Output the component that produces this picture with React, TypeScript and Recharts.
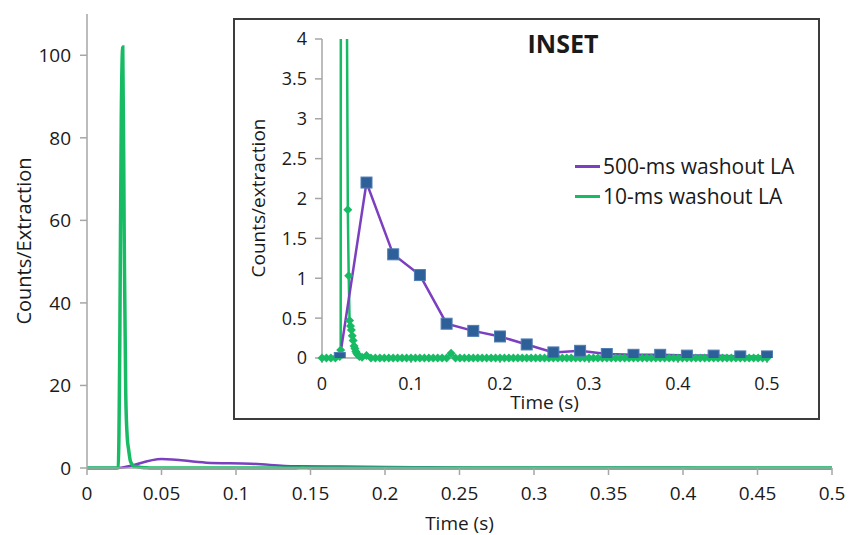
import { Line, LineChart, XAxis, YAxis } from "recharts";

// 500-ms washout LA (purple, square markers)
const slowTime = [0, 0.02, 0.05, 0.08, 0.11, 0.14, 0.17, 0.2, 0.23, 0.26, 0.29, 0.32, 0.35, 0.38, 0.41, 0.44, 0.47, 0.5];
const slowCounts = [0, 0, 2.2, 1.3, 1.04, 0.43, 0.34, 0.27, 0.17, 0.07, 0.09, 0.05, 0.04, 0.04, 0.03, 0.03, 0.02, 0.02];

// 10-ms washout LA (green, diamond markers)
const fastTime = [
  0, 0.005, 0.01, 0.015, 0.02, 0.021, 0.022, 0.023, 0.024, 0.025,
  0.026, 0.027, 0.028, 0.029, 0.03, 0.031, 0.032, 0.033, 0.034, 0.035,
  0.036, 0.037, 0.038, 0.039, 0.04, 0.042, 0.045, 0.05,
  0.055, 0.06, 0.065, 0.07, 0.075, 0.08, 0.085, 0.09, 0.095, 0.1,
  0.105, 0.11, 0.115, 0.12, 0.125, 0.13, 0.135, 0.14, 0.145, 0.15,
  0.155, 0.16, 0.165, 0.17, 0.175, 0.18, 0.185, 0.19, 0.195, 0.2,
  0.205, 0.21, 0.215, 0.22, 0.225, 0.23, 0.235, 0.24, 0.245, 0.25,
  0.255, 0.26, 0.265, 0.27, 0.275, 0.28, 0.285, 0.29, 0.295, 0.3,
  0.305, 0.31, 0.315, 0.32, 0.325, 0.33, 0.335, 0.34, 0.345, 0.35,
  0.355, 0.36, 0.365, 0.37, 0.375, 0.38, 0.385, 0.39, 0.395, 0.4,
  0.405, 0.41, 0.415, 0.42, 0.425, 0.43, 0.435, 0.44, 0.445, 0.45,
  0.455, 0.46, 0.465, 0.47, 0.475, 0.48, 0.485, 0.49, 0.495, 0.5
];
const fastCounts = [
  0, 0, 0, 0, 0.02, 0.1, 30, 85, 102, 55,
  18, 7.5, 4.3, 1.86, 1.03, 0.47, 0.4, 0.35, 0.28, 0.22,
  0.15, 0.12, 0.08, 0.06, 0.04, 0.02, 0.01, 0.03,
  0, 0, 0, 0, 0, 0, 0, 0, 0, 0,
  0, 0, 0, 0, 0, 0, 0, 0, 0.06, 0,
  0, 0, 0, 0, 0, 0, 0, 0, 0, 0,
  0, 0, 0, 0, 0, 0, 0, 0, 0, 0,
  0, 0, 0, 0, 0, 0, 0, 0, 0, 0,
  0, 0, 0, 0, 0, 0, 0, 0, 0, 0,
  0, 0, 0, 0, 0, 0, 0, 0, 0, 0,
  0, 0, 0, 0, 0, 0, 0, 0, 0, 0,
  0, 0, 0, 0, 0, 0, 0, 0, 0, 0
];

const mainTimeTicks = [0, 0.05, 0.1, 0.15, 0.2, 0.25, 0.3, 0.35, 0.4, 0.45, 0.5];
const mainCountTicks = [0, 20, 40, 60, 80, 100];
const insetTimeTicks = [0, 0.1, 0.2, 0.3, 0.4, 0.5];
const insetCountTicks = [0, 0.5, 1, 1.5, 2, 2.5, 3, 3.5, 4];

const slow = slowTime.map((t, i) => ({ t, v: slowCounts[i] }));
const fast = fastTime.map((t, i) => ({ t, v: fastCounts[i] }));
// markers that fall inside the inset's 0-4 range
const fastMarkers = fast.filter((d) => d.v <= 4);

const PURPLE = "#7b3fbf";
const GREEN = "#17bb64";
const SQUARE = "#2d5f99";
const AXIS = "#a6a6a6";
const TEXT = "#1a1a1a";
const FONT = "'Open Sans', sans-serif";

function Square(props: any) {
  const { cx, cy, index } = props;
  if (index === 0 || cx == null || cy == null) return <g key={`s-${index}`} />;
  return (
    <rect
      key={`s-${index}`}
      x={cx - 5.5}
      y={cy - 5.5}
      width={11}
      height={11}
      fill={SQUARE}
      stroke="#4f7db3"
      strokeWidth={1}
    />
  );
}

function Diamond(props: any) {
  const { cx, cy, index } = props;
  if (cx == null || cy == null) return <g key={`d-${index}`} />;
  const r = 4.5;
  return (
    <polygon
      key={`d-${index}`}
      points={`${cx},${cy - r} ${cx + r},${cy} ${cx},${cy + r} ${cx - r},${cy}`}
      fill={GREEN}
    />
  );
}

export default function App() {
  return (
    <div style={{ position: "absolute", left: 0, top: 0, width: 861, height: 535, overflow: "hidden", background: "#fff", fontFamily: FONT, color: TEXT }}>
      <LineChart width={861} height={535} margin={{ top: 14, right: 29, bottom: 27, left: 27 }}>
        <XAxis
          type="number"
          dataKey="t"
          domain={[0, 0.5]}
          ticks={mainTimeTicks}
          interval={0}
          height={40}
          stroke={AXIS}
          strokeWidth={1.5}
          tickSize={7}
          tickMargin={12}
          tick={{ fill: TEXT, fontSize: 19 }}
        />
        <YAxis
          type="number"
          domain={[0, 110]}
          ticks={mainCountTicks}
          interval={0}
          width={60}
          stroke={AXIS}
          strokeWidth={1.5}
          tickSize={7}
          tickMargin={9}
          tick={{ fill: TEXT, fontSize: 19 }}
        />
        <Line data={slow} dataKey="v" type="monotone" stroke={PURPLE} strokeWidth={2.5} dot={false} isAnimationActive={false} />
        <Line data={fast} dataKey="v" type="monotone" stroke={GREEN} strokeWidth={3.5} dot={false} isAnimationActive={false} />
      </LineChart>

      <div style={{ position: "absolute", left: 87, top: 513, width: 745, textAlign: "center", fontSize: 19, lineHeight: "20px" }}>
        Time (s)
      </div>
      <div style={{ position: "absolute", left: 24 - 110, top: 241 - 10, width: 220, textAlign: "center", fontSize: 20, lineHeight: "20px", transform: "rotate(-90deg)" }}>
        Counts/Extraction
      </div>

      <div style={{ position: "absolute", left: 233, top: 18, width: 587, height: 402, boxSizing: "border-box", border: "2px solid #3c3c3c", background: "#fff" }} />
      <div style={{ position: "absolute", left: 233, top: 18 }}>
        <LineChart width={587} height={402} margin={{ top: 21, right: 53, bottom: 32, left: 29 }}>
          <XAxis
            type="number"
            dataKey="t"
            domain={[0, 0.5]}
            ticks={insetTimeTicks}
            interval={0}
            height={30}
            stroke={AXIS}
            strokeWidth={1.5}
            tickSize={5}
            tickMargin={14}
            tick={{ fill: TEXT, fontSize: 18 }}
          />
          <YAxis
            type="number"
            domain={[0, 4]}
            allowDataOverflow
            ticks={insetCountTicks}
            interval={0}
            width={60}
            stroke={AXIS}
            strokeWidth={1.5}
            tickSize={7}
            tickMargin={8}
            tick={{ fill: TEXT, fontSize: 18 }}
          />
          <YAxis yAxisId="markers" type="number" domain={[0, 4]} hide />
          <Line data={fast} dataKey="v" type="linear" stroke={GREEN} strokeWidth={2.5} dot={false} isAnimationActive={false} />
          <Line
            data={fastMarkers}
            yAxisId="markers"
            dataKey="v"
            type="linear"
            stroke="none"
            dot={Diamond}
            activeDot={false}
            isAnimationActive={false}
          />
          <Line data={slow} dataKey="v" type="linear" stroke={PURPLE} strokeWidth={2.5} dot={Square} isAnimationActive={false} />
        </LineChart>
      </div>

      <div style={{ position: "absolute", left: 322, top: 393, width: 445, textAlign: "center", fontSize: 19, lineHeight: "19px" }}>
        Time (s)
      </div>
      <div style={{ position: "absolute", left: 258 - 110, top: 198 - 10, width: 220, textAlign: "center", fontSize: 19, lineHeight: "20px", transform: "rotate(-90deg)" }}>
        Counts/extraction
      </div>
      <div style={{ position: "absolute", left: 463, top: 31, width: 200, textAlign: "center", fontSize: 25, lineHeight: "25px", fontWeight: 700 }}>
        INSET
      </div>

      <div style={{ position: "absolute", left: 575, top: 151, fontSize: 21, lineHeight: "30px" }}>
        {[
          { name: "500-ms washout LA", color: PURPLE },
          { name: "10-ms washout LA", color: GREEN }
        ].map((item) => (
          <div key={item.name} style={{ display: "flex", alignItems: "center", height: 30 }}>
            <span style={{ display: "inline-block", width: 25, height: 3, background: item.color, marginRight: 3 }} />
            <span>{item.name}</span>
          </div>
        ))}
      </div>
    </div>
  );
}
